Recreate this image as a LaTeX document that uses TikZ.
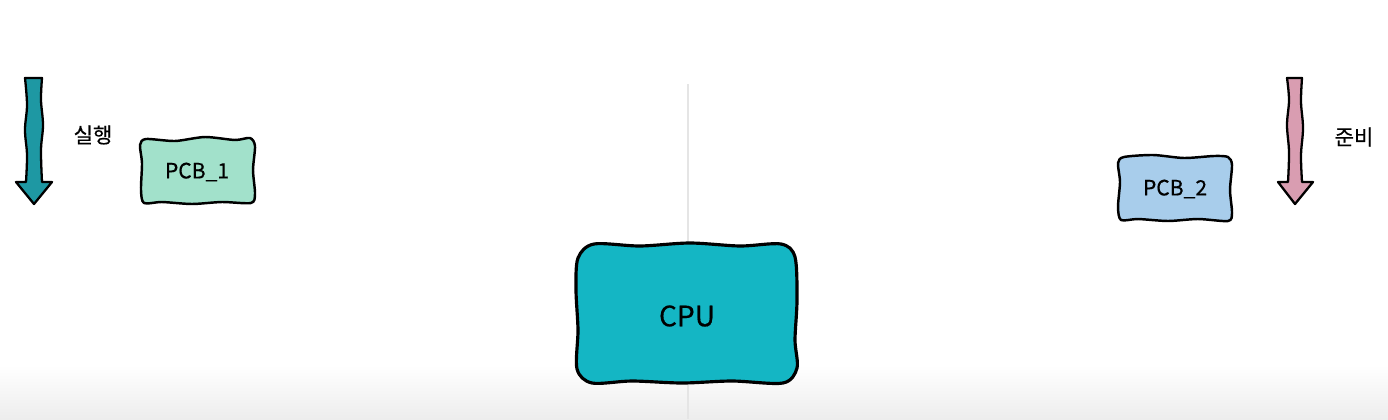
\documentclass[tikz,border=0pt]{standalone}
\usepackage{fontspec}
\setmainfont{Noto Sans CJK KR}
\newfontfamily\labelfont{Noto Sans CJK KR}[FakeBold=0.5]
\definecolor{cputeal}{HTML}{14B6C4}
\definecolor{pcbmint}{HTML}{A2E1CB}
\definecolor{pcbblue}{HTML}{A8CDEB}
\definecolor{runteal}{HTML}{1E98A3}
\definecolor{readypink}{HTML}{D99DB1}
\begin{document}
\begin{tikzpicture}[x=0.02cm,y=-0.02cm]
\tikzstyle{sketch}=[draw=black,line width=1.4pt,line join=round,line cap=round]
\tikzstyle{label}=[inner sep=0pt,font=\labelfont\fontsize{12}{14}\selectfont]
\useasboundingbox (0,0) rectangle (1388,419);
\shade[top color=white,bottom color=black!7] (0,365) rectangle (1388,419);
\draw [black!10,line width=1pt] (688,84) -- (688,419);
% running arrow
\filldraw [sketch,fill=runteal,line width=1.3pt] (25,78) -- (42,78)
  -- plot[smooth,tension=0.6] coordinates {(42,78) (41,100) (43,125) (41,150) (42,182)}
  -- (52,182) -- (34,204) -- (16,182) -- (26,182)
  -- plot[smooth,tension=0.6] coordinates {(26,182) (27,155) (25,130) (27,105) (25,78)} -- cycle;
\node [label] (run) at (93,135) {실행};
% ready arrow
\filldraw [sketch,fill=readypink,line width=1.3pt] (1287,78) -- (1302,78)
  -- plot[smooth,tension=0.6] coordinates {(1302,78) (1301,102) (1303,128) (1301,155) (1302,182)}
  -- (1313,182) -- (1295,204) -- (1278,182) -- (1288,182)
  -- plot[smooth,tension=0.6] coordinates {(1288,182) (1289,152) (1287,125) (1289,100) (1287,78)} -- cycle;
\node [label] (ready) at (1354,137) {준비};
% PCBs
\filldraw [sketch,fill=pcbmint] plot[smooth cycle,tension=0.45] coordinates {
  (146,139) (175,141) (205,137) (235,140) (250,138) (255,146) (253,170) (255,194)
  (251,203) (222,202) (192,204) (162,202) (144,203) (141,190) (142,163) (140,145)};
\node [label] (pcb1) at (197,172) {PCB\_1};
\filldraw [sketch,fill=pcbblue] plot[smooth cycle,tension=0.45] coordinates {
  (1124,157) (1153,155) (1184,158) (1214,156) (1228,157) (1232,165) (1230,190) (1232,213)
  (1228,221) (1198,219) (1168,221) (1138,219) (1121,220) (1118,207) (1120,182) (1118,163)};
\node [label] (pcb2) at (1175,189) {PCB\_2};
% CPU
\filldraw [sketch,fill=cputeal,line width=1.8pt] plot[smooth cycle,tension=0.5] coordinates {
  (594,244) (640,246) (690,243) (740,246) (781,244) (795,257) (797,300) (795,340)
  (797,368) (783,383) (732,381) (682,383) (632,381) (592,383) (577,369) (578,330)
  (576,290) (578,258)};
\node [label,font=\labelfont\fontsize{16}{18}\selectfont] (cpu) at (687,316) {CPU};
\end{tikzpicture}
\end{document}
